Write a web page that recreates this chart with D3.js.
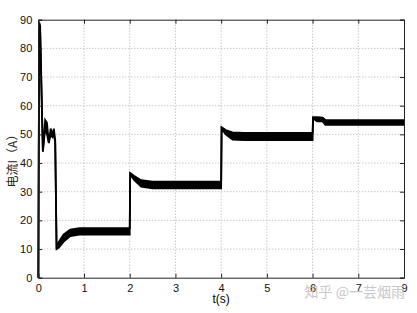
<!DOCTYPE html>
<html>
<head>
<meta charset="utf-8">
<script src="https://cdn.jsdelivr.net/npm/d3@7"></script>
<style>
  body { margin: 0; background: #fff; }
  svg { display: block; }
</style>
</head>
<body>
<div id="chart"></div>
<script>
// time (s) with upper / lower envelope of the current ripple band (A)
const time  = [0, 0.02, 0.04, 0.1, 0.15, 0.19, 0.23, 0.27, 0.31, 0.34, 0.37, 0.4, 0.45, 0.55, 0.7, 0.9, 2.0,
               2.01, 2.1, 2.25, 2.5, 4.0, 4.01, 4.1, 4.25, 4.5, 6.0, 6.01, 6.1, 6.22, 6.28, 8.0];
const upper = [0, 89, 88, 44, 55, 54, 47, 52, 50, 52, 48, 10, 12.5, 15, 16.8, 17.3, 17.3,
               36.5, 35.5, 34, 33.5, 33.5, 52.5, 51.5, 50.7, 50.5, 50.5, 56, 56, 55.8, 55, 55];
const lower = [0, 87, 86, 44, 52, 50, 47, 50, 49, 50, 47, 10, 10.5, 12.5, 14.5, 15, 15,
               36, 34, 31.8, 31.2, 31.2, 52, 50, 48.2, 48, 48, 55.5, 54.5, 54.5, 53.3, 53.3];

const xTicks = [0, 1, 2, 3, 4, 5, 6, 7, 8];
const xTickLabels = ["0", "1", "2", "3", "4", "5", "6", "7", "9"];
const yTicks = [0, 10, 20, 30, 40, 50, 60, 70, 80, 90];

const width = 417, height = 313;
const margin = {top: 19.7, right: 13, bottom: 35.3, left: 38.3};

const svg = d3.select("#chart")
  .append("svg")
  .attr("width", width)
  .attr("height", height);

const x = d3.scaleLinear().domain([0, 8]).range([margin.left, width - margin.right]);
const y = d3.scaleLinear().domain([0, 90]).range([height - margin.bottom, margin.top]);

const font = "'Liberation Sans', Arial, Helvetica, sans-serif";

// dotted grid
svg.append("g")
  .selectAll("line")
  .data(xTicks.slice(1, -1))
  .enter().append("line")
  .attr("x1", d => x(d)).attr("x2", d => x(d))
  .attr("y1", y(0)).attr("y2", y(90))
  .attr("stroke", "#9a9a9a")
  .attr("stroke-width", 0.8)
  .attr("stroke-dasharray", "1,2");

svg.append("g")
  .selectAll("line")
  .data(yTicks.slice(1, -1))
  .enter().append("line")
  .attr("x1", x(0)).attr("x2", x(8))
  .attr("y1", d => y(d)).attr("y2", d => y(d))
  .attr("stroke", "#9a9a9a")
  .attr("stroke-width", 0.8)
  .attr("stroke-dasharray", "1,2");

// the waveform band
const data = time.map((t, i) => ({t: t, hi: upper[i], lo: lower[i]}));

svg.append("path")
  .datum(data)
  .attr("d", d3.area().x(d => x(d.t)).y0(d => y(d.lo)).y1(d => y(d.hi)))
  .attr("fill", "#000");

svg.append("path")
  .datum(data)
  .attr("d", d3.line().x(d => x(d.t)).y(d => y(d.hi)))
  .attr("fill", "none")
  .attr("stroke", "#000")
  .attr("stroke-width", 1.8);

svg.append("path")
  .datum(data)
  .attr("d", d3.line().x(d => x(d.t)).y(d => y(d.lo)))
  .attr("fill", "none")
  .attr("stroke", "#000")
  .attr("stroke-width", 1.8);

// axes, matlab style: ticks inside on all four sides
const xAxis = d3.axisBottom(x).tickValues(xTicks).tickSize(-4).tickPadding(7)
  .tickFormat((d, i) => xTickLabels[i]);
const yAxis = d3.axisLeft(y).tickValues(yTicks).tickSize(-4).tickPadding(6);

const gx = svg.append("g")
  .attr("transform", `translate(0,${y(0)})`)
  .call(xAxis);
const gy = svg.append("g")
  .attr("transform", `translate(${x(0)},0)`)
  .call(yAxis);

svg.append("g")
  .attr("transform", `translate(0,${y(90)})`)
  .call(d3.axisTop(x).tickValues(xTicks).tickSize(-4).tickFormat(""));
svg.append("g")
  .attr("transform", `translate(${x(8)},0)`)
  .call(d3.axisRight(y).tickValues(yTicks).tickSize(-4).tickFormat(""));

svg.selectAll(".domain").attr("stroke", "#222");
svg.selectAll(".tick line").attr("stroke", "#222");
svg.selectAll(".tick text")
  .attr("font-family", font)
  .attr("font-size", 11)
  .attr("fill", "#111");

// labels
svg.append("text")
  .attr("x", x(4))
  .attr("y", 303)
  .attr("text-anchor", "middle")
  .attr("font-family", font)
  .attr("font-size", 12)
  .text("t(s)");

svg.append("text")
  .attr("transform", "translate(17,158) rotate(-90)")
  .attr("text-anchor", "middle")
  .attr("font-family", "'Noto Sans CJK SC', sans-serif")
  .attr("font-size", 12)
  .attr("fill", "#222")
  .text("电流I（A）");

// watermark
svg.append("text")
  .attr("x", 405)
  .attr("y", 297)
  .attr("text-anchor", "end")
  .attr("font-family", "'Noto Sans CJK SC', sans-serif")
  .attr("font-size", 14)
  .attr("fill", "#c8c8c8")
  .text("知乎 @一芸烟雨");
</script>
</body>
</html>
